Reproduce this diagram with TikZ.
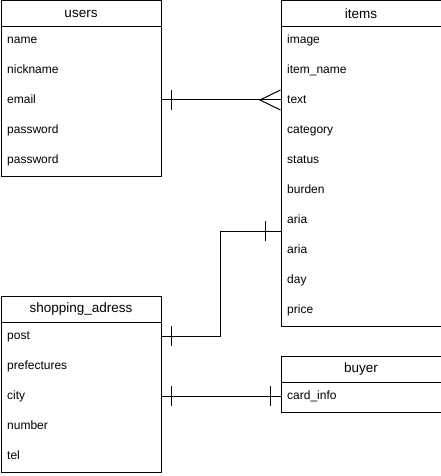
\documentclass[tikz,border=0pt]{standalone}
\usepackage{fontspec}
\setmainfont{Liberation Sans}
\begin{document}
\begin{tikzpicture}[x=1pt,y=-1pt, line width=1pt,
  tbl/.style={draw, minimum width=160pt, inner sep=0pt, anchor=north west},
  hdr/.style={draw, minimum width=160pt, minimum height=26pt, inner sep=0pt, anchor=north west, font=\fontsize{13.5}{15}\selectfont},
  rowtxt/.style={anchor=west, inner sep=0pt, text height=8.5pt, text depth=2.5pt, font=\fontsize{12}{14}\selectfont, yshift=-0.8pt, xshift=0.7pt},
  bar/.style={line width=1pt}]
\useasboundingbox (0,0) rectangle (441,476);

% users
\node[tbl, minimum height=175.5pt] (usersbox) at (0.5,0.5) {};
\node[hdr] (usershdr) at (0.5,0.5) {users};
\node[rowtxt] (uname) at (6,40) {name};
\node[rowtxt] (unick) at (6,70) {nickname};
\node[rowtxt] (uemail) at (6,100) {email};
\node[rowtxt] (upass1) at (6,130) {password};
\node[rowtxt] (upass2) at (6,160) {password};

% items
\node[tbl, minimum height=325.5pt] (itemsbox) at (280.5,0.5) {};
\node[hdr] (itemshdr) at (280.5,0.5) {items};
\node[rowtxt] (iimage) at (286,40) {image};
\node[rowtxt] (iname) at (286,70) {item\_name};
\node[rowtxt] (itext) at (286,100) {text};
\node[rowtxt] (icat) at (286,130) {category};
\node[rowtxt] (istatus) at (286,160) {status};
\node[rowtxt] (iburden) at (286,190) {burden};
\node[rowtxt] (iaria1) at (286,220) {aria};
\node[rowtxt] (iaria2) at (286,250) {aria};
\node[rowtxt] (iday) at (286,280) {day};
\node[rowtxt] (iprice) at (286,310) {price};

% shopping_adress
\node[tbl, minimum height=176pt] (shopbox) at (0.5,296) {};
\node[hdr] (shophdr) at (0.5,296) {shopping\_adress};
\node[rowtxt] (spost) at (6,336) {post};
\node[rowtxt] (spref) at (6,366) {prefectures};
\node[rowtxt] (scity) at (6,396) {city};
\node[rowtxt] (snum) at (6,426) {number};
\node[rowtxt] (stel) at (6,456) {tel};

% buyer
\node[tbl, minimum height=56pt] (buyerbox) at (280.5,356) {};
\node[hdr] (buyerhdr) at (280.5,356) {buyer};
\node[rowtxt] (bcard) at (286,396) {card\_info};

% connector users.email -> items.text (one to many)
\coordinate (c1) at (160.5,100);
\coordinate (c2) at (280.5,100);
\draw (usersbox.east |- c1) -- (itemsbox.west |- c2);
\draw[bar] (171,90) -- (171,110);
\draw (itemsbox.west |- 0,90) -- (260,100) -- (itemsbox.west |- 0,110);

% connector shopping.post -> items
\coordinate (bend1) at (220,336);
\coordinate (bend2) at (220,231);
\draw (shopbox.east |- bend1) -- (bend1) -- (bend2) -- (itemsbox.west |- bend2);
\draw[bar] (171,326) -- (171,346);
\draw[bar] (265,221) -- (265,241);

% connector shopping.city -> buyer.card_info
\coordinate (c3) at (160.5,396);
\draw (shopbox.east |- c3) -- (buyerbox.west |- c3);
\draw[bar] (171,386) -- (171,406);
\draw[bar] (270,386) -- (270,406);
\end{tikzpicture}
\end{document}
